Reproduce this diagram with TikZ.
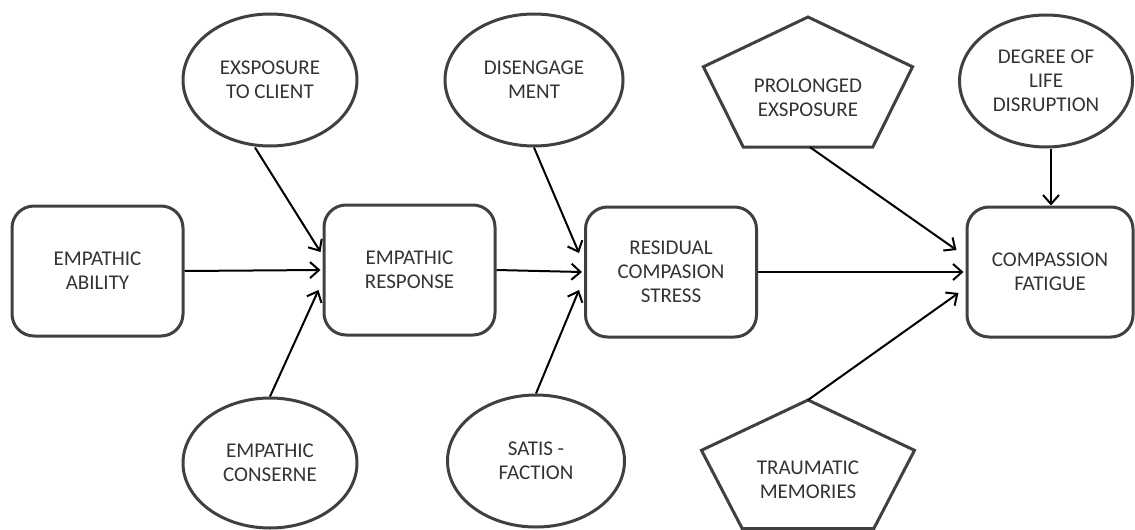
\documentclass[tikz,border=0pt]{standalone}
\usepackage{fontspec}
\setmainfont{Carlito}
\usetikzlibrary{shapes.geometric,arrows.meta}
\begin{document}
\begin{tikzpicture}[x=1pt,y=-1pt,
  every node/.style={text=black!80,font=\fontsize{21}{24}\selectfont,align=center},
  shapeline/.style={draw=black!75,line width=3pt},
  rbox/.style={shapeline,rounded corners=22pt,minimum width=171pt,minimum height=130pt,inner sep=0pt},
  oval/.style={shapeline,ellipse,minimum width=174pt,minimum height=132pt,inner sep=0pt},
  arr/.style={draw=black,line width=2pt,-{Straight Barb[length=9pt,width=16pt,line width=2pt]}}
]
\useasboundingbox (0,0) rectangle (1135,530);
% boxes
\node[rbox] (abil) at (97.5,271) {EMPATHIC\\ABILITY};
\node[rbox] (resp) at (409.5,270) {EMPATHIC\\RESPONSE};
\node[rbox] (resid) at (671,272) {RESIDUAL\\COMPASION\\STRESS};
\node[rbox,minimum width=166pt] (fat) at (1050,272) {COMPASSION\\FATIGUE};
% ellipses
\node[oval] (expo) at (270,80) {EXSPOSURE\\TO CLIENT};
\node[oval,minimum width=178pt] (dis) at (534,80) {DISENGAGE\\MENT};
\node[oval,minimum height=130pt] (cons) at (270,463) {EMPATHIC\\CONSERNE};
\node[oval,minimum width=177pt] (sat) at (536,461) {SATIS -\\FACTION};
\node[oval,minimum width=173pt] (deg) at (1046,81) {DEGREE OF\\LIFE\\DISRUPTION};
% pentagons
\draw[shapeline,line join=miter] (808,17) coordinate (ptop) -- (912.6,66.8) -- (872.7,147.2) -- (743.3,147.2) -- (703.4,66.8) -- cycle;
\coordinate (pbot) at (810,147.2);
\node (prol) at (808,98) {PROLONGED\\EXSPOSURE};
\draw[shapeline,line join=miter] (808,400) coordinate (tapex) -- (914.5,450.3) -- (873.8,528.6) -- (742.2,528.6) -- (701.5,450.3) -- cycle;
\node (trau) at (808,480) {TRAUMATIC\\MEMORIES};
% connectors
\draw[arr] (abil.east) -- ([xshift=-2pt]resp.west);
\draw[arr] ([xshift=-15pt]expo.south) -- ([xshift=-2pt,yshift=18pt]resp.west);
\draw[arr] (cons.north) -- ([xshift=-4pt,yshift=-20pt]resp.west);
\draw[arr] (resp.east) -- ([xshift=-2pt]resid.west);
\draw[arr] (dis.south) -- ([xshift=-5pt,yshift=19pt]resid.west);
\draw[arr] (sat.north) -- ([xshift=-5pt,yshift=-18pt]resid.west);
\draw[arr] (resid.east) -- ([xshift=-2pt]fat.west);
\draw[arr] (pbot) -- ([xshift=-9pt,yshift=22pt]fat.west);
\draw[arr] (tapex) -- ([xshift=-7pt,yshift=-21pt]fat.west);
\draw[arr] ([xshift=5pt]deg.south) -- ([xshift=5pt]deg.south |- fat.north);
\end{tikzpicture}
\end{document}
